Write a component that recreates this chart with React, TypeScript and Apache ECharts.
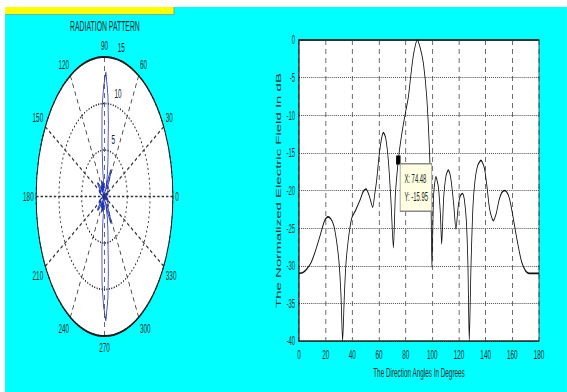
import React, { useEffect, useRef } from "react";
import * as echarts from "echarts";

// ---------- data ----------
const ANGLES_DEG = [
  0, 3, 6, 9, 12, 15.5, 19.2, 21.7, 24, 26, 28, 30, 31.5, 32.7, 34, 35.2, 37, 39.5, 42.5, 45.7, 48, 50.3,
  52.5, 55.3, 56.8, 58.2, 60, 61.8, 63.3, 65, 67, 69, 70.8, 72.3, 74.48, 76, 78, 80, 82, 84, 86, 88.7, 91,
  93.3, 95.8, 97.8, 99, 99.7, 101, 102.7, 104.5, 106, 107, 108.5, 110.3, 112, 113.8, 116, 117.7, 119.5, 121,
  122.7, 124, 125.5, 126.7, 127.7, 129, 130.5, 132, 134, 136.5, 139, 141, 143, 145.7, 148, 150, 152, 154.5,
  157, 159, 161, 164, 167, 170, 172.5, 176, 180,
];
const FIELD_DB = [
  -31, -30.9, -30.4, -29.6, -28.2, -26.2, -24, -23.5, -23.8, -24.6, -26.5, -29.5, -34, -40, -34, -29.8, -26.5,
  -23.7, -22.6, -21.3, -20.2, -19.8, -20.6, -22.2, -20.5, -18.7, -15.5, -13.2, -12.3, -13, -16, -21.5, -27.6,
  -20.5, -15.95, -13.8, -11.5, -9.5, -7.6, -4.5, -1.8, 0, -1.1, -3.1, -7.6, -14.5, -21.5, -30.2, -20.5, -18.2,
  -19.5, -23, -27.1, -21, -18, -17.3, -18.3, -21.8, -25.1, -22, -20.7, -20.4, -21.2, -24, -30, -40, -30, -22,
  -18.7, -16.7, -16, -17, -19.5, -22.5, -24, -23, -21.3, -20.3, -20, -20.6, -22, -24, -27, -29.5, -30.7, -31,
  -31, -31,
];
const PEAK_RADIUS = 13.4; // main-lobe length read on the polar plot
const RADIUS_TICKS = [5, 10, 15];
const RADIUS_LABEL_ANGLE = 82;
const X_TICK_STEP = 20;
const Y_TICK_STEP = 5;
const TIP_X = 74.48;
const TIP_Y = -15.95;

// ---------- layout (reference is horizontally squeezed) ----------
const S = 0.49;
const PAGE_W = 567;
const PAGE_H = 392;
const W = Math.round(PAGE_W / S);
const px = (x: number) => x / S;
const POLAR_CX = px(104.5);
const POLAR_CY = 196.5;
const POLAR_R = 139.5;

const FONT = "Liberation Sans, Arial, Helvetica, sans-serif";
const TXT = "#1c2a2a";

const cartesian = ANGLES_DEG.map((a, i) => [a, FIELD_DB[i]]);
const upper = ANGLES_DEG.map((a, i) => [PEAK_RADIUS * Math.pow(10, FIELD_DB[i] / 20), a]);
const lower = ANGLES_DEG.slice()
  .reverse()
  .map((a, j) => {
    const i = ANGLES_DEG.length - 1 - j;
    return [PEAK_RADIUS * Math.pow(10, FIELD_DB[i] / 20), 360 - a];
  });
const polarData = upper.concat(lower);

const baseGraphic: any[] = [
  { type: "rect", id: "topStrip", z: -5, shape: { x: 0, y: 0, width: W, height: 7 }, style: { fill: "#ffffff" }, silent: true },
  { type: "rect", id: "leftStrip", z: -5, shape: { x: 0, y: 0, width: px(5), height: PAGE_H }, style: { fill: "#ffffff" }, silent: true },
  { type: "rect", id: "yellowBar", z: -5, shape: { x: px(5), y: 7, width: px(169), height: 7 }, style: { fill: "#ffff00" }, silent: true },
  {
    type: "line",
    id: "barEdgeH",
    z: -5,
    shape: { x1: px(5), y1: 14.5, x2: px(174), y2: 14.5 },
    style: { stroke: "#8c9a9a", lineWidth: 1 },
    silent: true,
  },
  {
    type: "line",
    id: "barEdgeV",
    z: -5,
    shape: { x1: px(174), y1: 7, x2: px(174), y2: 14.5 },
    style: { stroke: "#8c9a9a", lineWidth: 2 },
    silent: true,
  },
  {
    type: "circle",
    id: "polarDisk",
    z: -5,
    shape: { cx: POLAR_CX, cy: POLAR_CY, r: POLAR_R },
    style: { fill: "#ffffff" },
    silent: true,
  },
];

const option: any = {
  animation: false,
  backgroundColor: "#00ffff",
  textStyle: { fontFamily: FONT },
  title: {
    text: "RADIATION PATTERN",
    left: px(102.5),
    textAlign: "center",
    top: 14,
    textStyle: { fontSize: 14, fontWeight: "normal", color: TXT, fontFamily: FONT },
  },
  graphic: baseGraphic,
  polar: { center: [POLAR_CX, POLAR_CY], radius: POLAR_R },
  angleAxis: {
    type: "value",
    min: 0,
    max: 360,
    interval: 30,
    startAngle: 0,
    clockwise: false,
    axisLine: { show: true, lineStyle: { color: "#1a1a1a", width: 2 } },
    axisTick: { show: false },
    axisLabel: {
      show: true,
      fontSize: 13,
      color: TXT,
      margin: 5,
      formatter: (v: number) => (v === 360 ? "" : String(v)),
    },
    splitLine: { show: true, lineStyle: { color: "#333", type: [5, 4], width: 1.5 } },
  },
  radiusAxis: {
    type: "value",
    min: 0,
    max: 15,
    interval: 5,
    axisLine: { show: false },
    axisTick: { show: false },
    axisLabel: { show: false },
    splitLine: { show: true, lineStyle: { color: "#111", type: [2, 3], width: 1.6 } },
  },
  grid: {
    left: px(299),
    top: 40,
    width: px(240),
    height: 301,
    show: true,
    backgroundColor: "#ffffff",
    borderColor: "#2a2a2a",
    borderWidth: 1.5,
  },
  xAxis: {
    type: "value",
    min: 0,
    max: 180,
    interval: X_TICK_STEP,
    name: "The Direction Angles In Degrees",
    nameLocation: "middle",
    nameGap: 25,
    nameTextStyle: { fontSize: 13, color: TXT },
    axisLine: { show: true, lineStyle: { color: "#2a2a2a", width: 1.5 } },
    axisTick: { show: false },
    axisLabel: { fontSize: 13, color: TXT, margin: 7 },
    splitLine: { show: true, lineStyle: { color: "#444", type: [5, 4], width: 1.6 } },
  },
  yAxis: {
    type: "value",
    min: -40,
    max: 0,
    interval: Y_TICK_STEP,
    name: "The Normalized Electric Field In dB",
    nameLocation: "middle",
    nameGap: 34,
    nameTextStyle: { fontSize: 15, color: TXT },
    axisLine: { show: true, lineStyle: { color: "#2a2a2a", width: 2 } },
    axisTick: { show: false },
    axisLabel: { fontSize: 12, color: TXT, margin: 8 },
    splitLine: { show: true, lineStyle: { color: "#111", type: [2, 2], width: 1 } },
  },
  series: [
    {
      type: "line",
      coordinateSystem: "polar",
      polarIndex: 0,
      data: polarData,
      showSymbol: false,
      symbol: "none",
      lineStyle: { color: "#2233bb", width: 1.6 },
      z: 3,
    },
    {
      type: "line",
      xAxisIndex: 0,
      yAxisIndex: 0,
      data: cartesian,
      showSymbol: false,
      symbol: "none",
      smooth: 0.25,
      lineStyle: { color: "#111", width: 1.7 },
      z: 3,
      markPoint: {
        symbol: "rect",
        symbolSize: 9,
        itemStyle: { color: "#000" },
        data: [
          {
            coord: [TIP_X, TIP_Y],
            label: {
              show: true,
              position: [9, 9],
              align: "left",
              verticalAlign: "top",
              formatter: `X: ${TIP_X}\nY: ${TIP_Y}`,
              backgroundColor: "#ffffe1",
              borderColor: "#8a8a8a",
              borderWidth: 1.5,
              padding: [5, 7, 5, 8],
              fontSize: 12,
              lineHeight: 18,
              color: TXT,
              textBorderWidth: 0,
            },
          },
        ],
      },
    },
  ],
};

export default function App() {
  const ref = useRef<HTMLDivElement>(null);
  useEffect(() => {
    const chart = echarts.init(ref.current as HTMLDivElement, null, { renderer: "svg", width: W, height: PAGE_H });
    chart.setOption(option);
    // radius tick labels, placed through the polar coordinate system (MATLAB puts them at 82°)
    const radiusLabels = RADIUS_TICKS.map((t, i) => {
      const p = chart.convertToPixel({ seriesIndex: 0 } as any, [t + 0.45, RADIUS_LABEL_ANGLE]) as number[];
      return {
        type: "text",
        id: "rlabel" + i,
        z: 10,
        x: p[0] + 7,
        y: p[1],
        silent: true,
        style: {
          text: String(t),
          fill: "#102020",
          fontSize: 13,
          fontFamily: FONT,
          align: "left",
          verticalAlign: "bottom",
        },
      };
    });
    chart.setOption({ graphic: baseGraphic.concat(radiusLabels) }, { replaceMerge: ["graphic"] } as any);
    return () => chart.dispose();
  }, []);
  return (
    <div
      style={{
        position: "fixed",
        left: 0,
        top: 0,
        width: PAGE_W,
        height: PAGE_H,
        overflow: "hidden",
        background: "#ffffff",
      }}
    >
      <div
        ref={ref}
        style={{ width: W, height: PAGE_H, transform: `scaleX(${S})`, transformOrigin: "0 0" }}
      />
    </div>
  );
}
